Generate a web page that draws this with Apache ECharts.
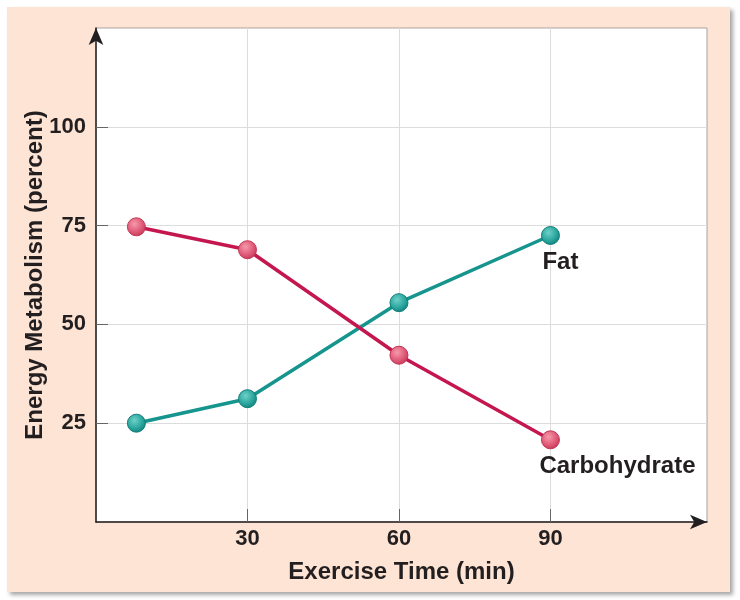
<!DOCTYPE html>
<html>
<head>
<meta charset="utf-8">
<script src="https://cdn.jsdelivr.net/npm/echarts@6/dist/echarts.min.js"></script>
<style>
html,body{margin:0;padding:0;background:#ffffff;}
#chart{width:740px;height:600px;}
</style>
</head>
<body>
<div id="chart"></div>
<script>
// Data
const times = [8, 30, 60, 90];
const carbohydrate = [74.7, 68.9, 42.2, 20.8];
const fat = [25.0, 31.2, 55.5, 72.5];
const xTicks = [30, 60, 90];
const yTicks = [25, 50, 75, 100];
const seriesNames = ['Carbohydrate', 'Fat'];
const xAxisTitle = 'Exercise Time (min)';
const yAxisTitle = 'Energy Metabolism (percent)';

const FONT = '"Liberation Sans", Arial, Helvetica, sans-serif';
const TXT = '#231f20';

function pairs(xs, ys) { return xs.map((x, i) => [x, ys[i]]); }
function ball(light, mid, dark) {
  return new echarts.graphic.RadialGradient(0.4, 0.35, 0.7, [
    { offset: 0, color: light },
    { offset: 0.6, color: mid },
    { offset: 1, color: dark }
  ]);
}

const chart = echarts.init(document.getElementById('chart'), null, { renderer: 'canvas' });
chart.setOption({
  animation: false,
  backgroundColor: '#ffffff',
  graphic: [{
    type: 'rect',
    z: -10,
    shape: { x: 7, y: 7, width: 723, height: 585 },
    style: {
      fill: '#fde4d4',
      shadowColor: 'rgba(0,0,0,0.35)',
      shadowBlur: 4,
      shadowOffsetX: 3,
      shadowOffsetY: 3
    }
  }],
  grid: {
    left: 96, top: 28, right: 33, bottom: 78,
    show: true,
    backgroundColor: '#ffffff',
    borderColor: '#a9a3a0',
    borderWidth: 1
  },
  xAxis: {
    type: 'value',
    min: 0, max: 121, interval: 30,
    name: xAxisTitle,
    nameLocation: 'middle',
    nameGap: 38,
    nameMoveOverlap: false,
    nameTextStyle: { fontFamily: FONT, fontWeight: 'bold', fontSize: 24, color: TXT },
    axisLine: {
      show: true,
      symbol: ['none', 'arrow'],
      symbolSize: [11, 17],
      symbolOffset: [0, 0],
      lineStyle: { color: '#231f20', width: 1.5 }
    },
    axisTick: { show: true, inside: true, length: 13, customValues: xTicks, lineStyle: { color: '#666' } },
    axisLabel: { customValues: xTicks, margin: 6, fontFamily: FONT, fontWeight: 'bold', fontSize: 22, color: TXT },
    splitLine: { show: true, lineStyle: { color: '#dcdcdc', width: 1 } }
  },
  yAxis: {
    type: 'value',
    min: 0, max: 125, interval: 25,
    name: yAxisTitle,
    nameLocation: 'middle',
    nameGap: 49,
    nameMoveOverlap: false,
    nameRotate: 90,
    nameTextStyle: { fontFamily: FONT, fontWeight: 'bold', fontSize: 24, color: TXT },
    axisLine: {
      show: true,
      symbol: ['none', 'arrow'],
      symbolSize: [11, 17],
      symbolOffset: [0, 0],
      lineStyle: { color: '#231f20', width: 1.5 }
    },
    axisTick: { show: true, inside: true, length: 12, customValues: yTicks, lineStyle: { color: '#666' } },
    axisLabel: { customValues: yTicks, margin: 10, fontFamily: FONT, fontWeight: 'bold', fontSize: 22, color: TXT },
    splitLine: { show: true, lineStyle: { color: '#dcdcdc', width: 1 } }
  },
  series: [
    {
      name: seriesNames[0],
      type: 'line',
      data: pairs(times, carbohydrate),
      symbol: 'circle',
      symbolSize: 18,
      z: 3,
      lineStyle: { color: '#c4174f', width: 3.5 },
      itemStyle: { color: ball('#f59aab', '#e05a77', '#c23556'), borderColor: '#c23556', borderWidth: 1 },
      label: {
        show: true,
        position: 'bottom',
        distance: 5,
        offset: [67, 0],
        fontFamily: FONT, fontWeight: 'bold', fontSize: 24, color: TXT,
        formatter: (p) => p.dataIndex === times.length - 1 ? seriesNames[0] : ''
      }
    },
    {
      name: seriesNames[1],
      type: 'line',
      data: pairs(times, fat),
      symbol: 'circle',
      symbolSize: 18,
      z: 2,
      lineStyle: { color: '#15958e', width: 3.5 },
      itemStyle: { color: ball('#6fd0c8', '#2aa69e', '#117d78'), borderColor: '#117d78', borderWidth: 1 },
      label: {
        show: true,
        position: 'bottom',
        distance: 5,
        offset: [10, 0],
        fontFamily: FONT, fontWeight: 'bold', fontSize: 24, color: TXT,
        formatter: (p) => p.dataIndex === times.length - 1 ? seriesNames[1] : ''
      }
    }
  ]
});
</script>
</body>
</html>
